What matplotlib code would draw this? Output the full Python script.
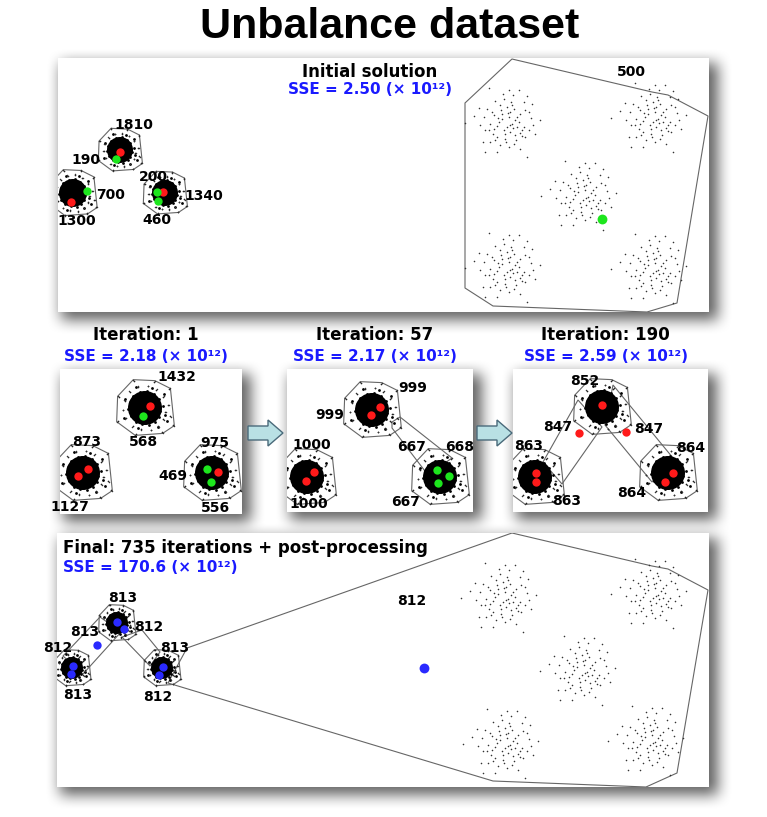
import numpy as np
import matplotlib
matplotlib.use("Agg")
import matplotlib.pyplot as plt
from matplotlib.patches import Circle, Polygon

plt.rcParams['font.family'] = ['DejaVu Sans']

W, H = 767, 817

# panel boxes in figure pixels: (left, top, width, height)
BOX_TOP = (58, 58, 651, 254)
BOX_MID = [(60, 369, 182, 145), (287, 369, 186, 143), (513, 369, 195, 143)]
BOX_BOT = (57, 533, 652, 254)

# ---- data (panel-local pixel units, y downward) ----
# sparse cloud pattern (offsets around a sparse cluster centre)
sparse_dx = [-18, 2, 12, 6, -3, -12, -20, -7, 0, 7, 17, 25, -33, -23, -13, -5, 3, 13, 22,
             -27, -17, -8, 3, 5, 10, 17, 33, -22, -13, -3, 3, 15, 22, -10, -2, 8, 18, -17,
             -7, 2, 7, 13, -22, -10, 20, -42, -5, 2, 8, -10, 6, -2, 12, -15, 0, 10, -6, 4,
             -18, 15, -12, 9, 24, -28, 28, -4, 20, -24, 1, -9, 13, -1, 18, -14, 5, 26]
sparse_dy = [-34, -32, -32, -27, -23, -21, -13, -17, -15, -13, -20, -18, -6, -5, -7, -8, -10, -8, -10,
             3, 2, 0, 3, 2, 5, 5, -2, 8, 7, 8, 10, 8, 8, 15, 17, 13, 15, 20,
             23, 25, 22, 27, 30, 30, 35, 1, -3, -5, -2, 4, 6, 12, 0, -10, 5, -5, -12, -20,
             8, 14, 18, 18, -4, -14, 12, -28, -26, 20, -9, -4, 11, 20, -12, 12, -17, 3]
# fringe of a dense cluster, in units of the core radius
fringe_dx = [1.05, 0.95, 0.7, 0.3, -0.2, -0.65, -1.0, -1.15, -1.05, -0.8, -0.35, 0.15, 0.6, 0.95,
             1.25, 1.35, 0.9, -0.5, -1.45, -1.4, -0.6, 0.5, 1.3, 1.5]
fringe_dy = [0.2, 0.6, 0.95, 1.15, 1.1, 0.95, 0.55, 0.1, -0.4, -0.85, -1.1, -1.15, -0.95, -0.6,
             -0.15, 0.45, 1.3, 1.4, 0.7, -0.6, -1.45, -1.4, -1.0, 0.9]

# --- top panel: initial solution
top_dense = [(15, 135), (62, 92), (107, 135)]
top_dense_r = [14, 13, 13]
top_sparse = [(449, 64), (595, 59), (525, 137), (449, 209), (595, 210)]
top_hulls = [[(407, 45), (454, 1), (594, 34), (610, 37), (650, 58), (619, 245), (589, 254),
              (435, 248), (407, 230)]]
top_cent = [(62, 94, 'r'), (58, 101, 'g'), (29, 133, 'g'), (13, 144, 'r'), (105, 134, 'r'),
            (99, 134, 'g'), (100, 143, 'g'), (544, 161, 'G')]
top_labels = [("1810", 76, 67), ("190", 28, 102), ("200", 95, 119), ("700", 53, 137),
              ("1340", 146, 138), ("1300", 19, 163), ("460", 99, 162), ("500", 573, 14)]
top_title = ("Initial solution", "SSE = 2.50 (× 10¹²)")

# --- middle panels
mid_titles = [("Iteration: 1", "SSE = 2.18 (× 10¹²)"),
              ("Iteration: 57", "SSE = 2.17 (× 10¹²)"),
              ("Iteration: 190", "SSE = 2.59 (× 10¹²)")]
mid_dense = [[(23, 104), (85, 39), (152, 104)],
             [(20, 108), (85, 41), (153, 108)],
             [(22, 108), (89, 38), (155, 104)]]
mid_hulls = [[],
             [[(105, 53), (113, 48), (165, 89), (141, 106), (105, 59)]],
             [[(65, 31), (89, 58), (49, 115), (30, 93)],
              [(100, 16), (160, 89), (139, 113), (92, 56)]]]
mid_cent = [[(90, 37, 'r'), (83, 47, 'g'), (28, 100, 'r'), (18, 107, 'r'), (147, 100, 'g'),
             (158, 103, 'r'), (151, 113, 'g')],
            [(93, 38, 'r'), (84, 46, 'r'), (27, 103, 'r'), (19, 112, 'r'), (150, 101, 'g'),
             (162, 107, 'g'), (151, 114, 'g')],
            [(89, 36, 'r'), (66, 64, 'r'), (113, 63, 'r'), (23, 104, 'r'), (23, 113, 'r'),
             (160, 104, 'r'), (152, 113, 'r')]]
mid_labels = [[("1432", 117, 8), ("873", 27, 73), ("568", 83, 73), ("975", 155, 74),
               ("469", 113, 107), ("1127", 10, 138), ("556", 155, 139)],
              [("999", 126, 19), ("999", 43, 46), ("1000", 25, 76), ("667", 125, 78),
               ("668", 173, 78), ("667", 119, 133), ("1000", 22, 135)],
              [("852", 72, 12), ("847", 45, 58), ("847", 136, 60), ("863", 16, 77),
               ("864", 178, 79), ("863", 54, 132), ("864", 119, 124)]]

# --- bottom panel: final
bot_dense = [(15, 135), (60, 90), (105, 135)]
bot_dense_r = [11, 11, 11]
bot_sparse = [(446, 64), (596, 60), (525, 137), (448, 210), (593, 207)]
bot_hulls = [[(130, 115), (455, 0), (595, 33), (611, 36), (651, 57), (620, 240), (589, 254),
              (436, 248), (111, 150)],
             [(43, 84), (6, 123), (26, 141), (64, 99)],
             [(65, 104), (85, 97), (103, 119), (93, 133)]]
bot_cent = [(60, 89, 'b'), (67, 96, 'b'), (40, 112, 'b'), (16, 133, 'b'), (14, 141, 'b'),
            (106, 134, 'b'), (102, 142, 'b'), (367, 135, 'B')]
bot_labels = [("813", 66, 65), ("812", 92, 94), ("813", 28, 99), ("812", 1, 115),
              ("813", 118, 115), ("813", 21, 162), ("812", 101, 164), ("812", 355, 68)]
bot_title = ("Final: 735 iterations + post-processing", "SSE = 170.6 (× 10¹²)")

# ---- styling ----
CENT_COLOR = {'r': '#ff1a1a', 'g': '#1de61d', 'G': '#1de61d', 'b': '#2a2aff', 'B': '#2a2aff'}
CENT_SIZE = {'r': 36, 'g': 36, 'G': 50, 'b': 36, 'B': 50}
BLUE = '#1a1aff'
HULL = dict(fill=False, edgecolor='#666666', lw=0.8)


def convex_hull(pts):
    pts = sorted(set(pts))

    def cross(o, a, b):
        return (a[0] - o[0]) * (b[1] - o[1]) - (a[1] - o[1]) * (b[0] - o[0])
    lower, upper = [], []
    for p in pts:
        while len(lower) >= 2 and cross(lower[-2], lower[-1], p) <= 0:
            lower.pop()
        lower.append(p)
    for p in reversed(pts):
        while len(upper) >= 2 and cross(upper[-2], upper[-1], p) <= 0:
            upper.pop()
        upper.append(p)
    return lower[:-1] + upper[:-1]


def panel_axes(box):
    x0, y0, w, h = box
    ax = fig.add_axes([x0 / W, 1 - (y0 + h) / H, w / W, h / H], zorder=2)
    ax.set_xlim(0, w)
    ax.set_ylim(h, 0)
    ax.set_xticks([])
    ax.set_yticks([])
    for s in ax.spines.values():
        s.set_visible(False)
    ax.set_facecolor('white')
    return ax


def draw_dense(ax, centers, radii):
    fx, fy = np.array(fringe_dx), np.array(fringe_dy)
    for (cx, cy), r in zip(centers, radii):
        ax.add_patch(Circle((cx, cy), r, color='black', lw=0, zorder=3))
        # ragged rim of the dense core
        ax.scatter(cx + 0.85 * r * fx, cy + 0.85 * r * fy, s=4, color='black', lw=0, zorder=3)
        ax.scatter(cx + 1.1 * r * fx, cy + 1.1 * r * fy, s=1.5, color='#222222', lw=0,
                   zorder=3)
        px, py = cx + 1.15 * r * fx, cy + 1.15 * r * fy
        ax.scatter(px, py, s=1.2, color='#333333', lw=0, zorder=3)
        hull = convex_hull(list(zip(px, py)))
        ax.add_patch(Polygon(hull, closed=True, zorder=2, **HULL))


def draw_sparse(ax, centers):
    dx, dy = np.array(sparse_dx), np.array(sparse_dy)
    for cx, cy in centers:
        ax.scatter(cx + dx, cy + dy, s=1.3, color='#333333', lw=0, zorder=3)


def draw_common(ax, hulls, cents, labels):
    for hpts in hulls:
        ax.add_patch(Polygon(hpts, closed=True, zorder=2, **HULL))
    for x, y, c in cents:
        ax.scatter([x], [y], s=CENT_SIZE[c], color=CENT_COLOR[c], lw=0, zorder=5)
    for t, x, y in labels:
        ax.text(x, y, t, ha='center', va='center', fontsize=10, fontweight='bold',
                zorder=6, clip_on=False)


def box_blur(a, r):
    k = np.ones(2 * r + 1) / (2 * r + 1)
    a = np.apply_along_axis(lambda m: np.convolve(m, k, mode='same'), 0, a)
    return np.apply_along_axis(lambda m: np.convolve(m, k, mode='same'), 1, a)


fig = plt.figure(figsize=(W / 100, H / 100), dpi=100)

# soft drop shadows behind the panels
shade = np.zeros((H, W))
for x0, y0, w, h in [BOX_TOP, BOX_BOT] + BOX_MID:
    shade[y0 + 5:y0 + h + 8, x0 + 3:x0 + w + 9] = 1.0
shade = box_blur(box_blur(shade, 8), 7)
rgba = np.zeros((H, W, 4))
rgba[..., 3] = 0.62 * shade
bg = fig.add_axes([0, 0, 1, 1], zorder=0)
bg.imshow(rgba, extent=(0, W, H, 0), aspect='auto', interpolation='bilinear')
bg.set_xlim(0, W)
bg.set_ylim(H, 0)
bg.axis('off')

# arrows between the iteration panels
for ax0 in (248, 477):
    verts = [(ax0, 426), (ax0 + 20, 426), (ax0 + 20, 420), (ax0 + 35, 433),
             (ax0 + 20, 446), (ax0 + 20, 440), (ax0, 440)]
    bg.add_patch(Polygon(verts, closed=True, facecolor='#b9e0e4', edgecolor='#4a6a7a',
                         lw=1.0, zorder=3))

fig.text(390 / W, 1 - 27 / H, "Unbalance dataset", ha='center', va='center',
         fontsize=31, fontweight='bold', family=['Liberation Sans Narrow', 'Liberation Sans'])

# top panel
ax = panel_axes(BOX_TOP)
draw_sparse(ax, top_sparse)
draw_dense(ax, top_dense, top_dense_r)
draw_common(ax, top_hulls, top_cent, top_labels)
ax.text(312, 14, top_title[0], ha='center', va='center', fontsize=12, fontweight='bold')
ax.text(312, 31, top_title[1], ha='center', va='center', fontsize=11, fontweight='bold',
        color=BLUE)

# iteration panels
for box, dense, hulls, cents, labels, (t1, t2) in zip(BOX_MID, mid_dense, mid_hulls,
                                                     mid_cent, mid_labels, mid_titles):
    ax = panel_axes(box)
    draw_dense(ax, dense, [17, 17, 17])
    draw_common(ax, hulls, cents, labels)
    xc = box[0] + box[2] / 2 - 5
    fig.text(xc / W, 1 - 335 / H, t1, ha='center', va='center', fontsize=12,
             fontweight='bold')
    fig.text(xc / W, 1 - 356 / H, t2, ha='center', va='center', fontsize=11,
             fontweight='bold', color=BLUE)

# bottom panel
ax = panel_axes(BOX_BOT)
draw_sparse(ax, bot_sparse)
draw_dense(ax, bot_dense, bot_dense_r)
draw_common(ax, bot_hulls, bot_cent, bot_labels)
ax.text(6, 15, bot_title[0], ha='left', va='center', fontsize=12, fontweight='bold')
ax.text(6, 35, bot_title[1], ha='left', va='center', fontsize=11, fontweight='bold',
        color=BLUE)

fig.savefig("out.png", dpi=100, facecolor='white')
